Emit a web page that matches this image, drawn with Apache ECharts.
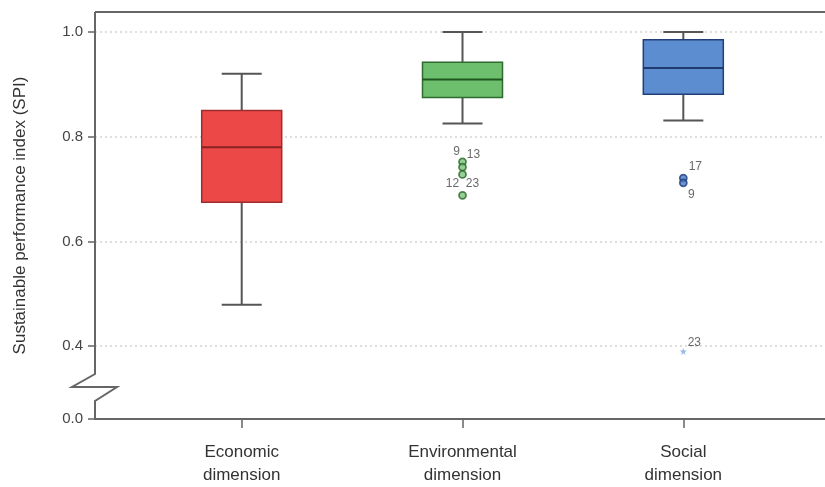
<!DOCTYPE html>
<html><head><meta charset="utf-8">
<script src="https://cdn.jsdelivr.net/npm/echarts@6/dist/echarts.min.js"></script>
<style>html,body{margin:0;padding:0;background:#fff}#c{width:825px;height:487px}</style>
</head><body><div id="c"></div>
<script>
// ---- data ----
const categories = ['Economic\ndimension', 'Environmental\ndimension', 'Social\ndimension'];
// [min, Q1, median, Q3, max]
const economic = [0.479, 0.675, 0.780, 0.850, 0.920];
const environmental = [0.825, 0.875, 0.909, 0.942, 1.000];
const social = [0.831, 0.881, 0.931, 0.985, 1.000];
const envOutliers = [0.752, 0.742, 0.728, 0.688];
const envOutlierIds = ['9', '13', '12', '23'];
const socOutliers = [0.721, 0.712];
const socOutlierIds = ['17', '9'];
const socExtremes = [0.390];
const socExtremeIds = ['23'];
const yTickValues = [0.4, 0.6, 0.8, 1.0];
const yBreakValue = 0.261;   // axis position shown as 0.0 below the break
const yBreakLabel = '0.0';
const yAxisName = 'Sustainable performance index (SPI)';

// ---- styles ----
const FONT = '"Liberation Sans", Arial, sans-serif';
const boxStyles = [
  {fill: '#EC4848', stroke: '#9E2E2E', median: '#8A2222'},
  {fill: '#6DBF6D', stroke: '#2F6B2F', median: '#1F561F'},
  {fill: '#5B8DD0', stroke: '#223F78', median: '#1E3A70'}
];
const envLabelOffsets = [[-6, -10], [11, -12], [-10, 9], [10, -12]];
const socLabelOffsets = [[12, -11], [8, 12]];
const extLabelOffsets = [[11, -9]];

const chart = echarts.init(document.getElementById('c'), null, {renderer: 'canvas'});

const boxData = [economic, environmental, social].map((d, i) => [i + 1].concat(d));

function renderBox(params, api) {
  const x = api.value(0);
  const p = [1, 2, 3, 4, 5].map(k => api.coord([x, api.value(k)]));
  const cx = p[0][0];
  const hw = 40, cw = 20;
  const s = boxStyles[params.dataIndex];
  const wl = {stroke: '#555', lineWidth: 2};
  return {type: 'group', children: [
    {type: 'line', shape: {x1: cx, y1: p[4][1], x2: cx, y2: p[3][1]}, style: wl},
    {type: 'line', shape: {x1: cx, y1: p[1][1], x2: cx, y2: p[0][1]}, style: wl},
    {type: 'line', shape: {x1: cx - cw, y1: p[4][1], x2: cx + cw, y2: p[4][1]}, style: wl},
    {type: 'line', shape: {x1: cx - cw, y1: p[0][1], x2: cx + cw, y2: p[0][1]}, style: wl},
    {type: 'rect', shape: {x: cx - hw, y: p[3][1], width: 2 * hw, height: p[1][1] - p[3][1]},
      style: {fill: s.fill, stroke: s.stroke, lineWidth: 1.5}},
    {type: 'line', shape: {x1: cx - hw, y1: p[2][1], x2: cx + hw, y2: p[2][1]},
      style: {stroke: s.median, lineWidth: 2}}
  ]};
}

function outlierData(xPos, vals, ids, offsets) {
  return vals.map((v, i) => ({
    value: [xPos, v, ids[i]],
    label: {offset: offsets[i]}
  }));
}

const labelBase = {
  show: true, position: 'inside', formatter: p => p.value[2],
  fontSize: 12, color: '#444', fontFamily: FONT
};

const GL = 95, GT = 12, GB = 67, W = 825, H = 487;
const axisBottom = H - GB;
const axisColor = '#666';

chart.setOption({
  animation: false,
  backgroundColor: '#fff',
  grid: {left: GL, right: 0, top: GT, bottom: GB},
  xAxis: {
    type: 'value', min: 0.3356, max: 3.6417,
    splitLine: {show: false},
    axisLine: {show: true, onZero: false, lineStyle: {color: axisColor, width: 2}},
    axisTick: {show: true, customValues: [1, 2, 3], length: 9, lineStyle: {color: axisColor, width: 1.5}},
    axisLabel: {customValues: [1, 2, 3], formatter: v => categories[Math.round(v) - 1],
      fontSize: 17, lineHeight: 23, margin: 22, color: '#333', fontFamily: FONT}
  },
  yAxis: {
    type: 'value', min: yBreakValue, max: 1.0381,
    name: yAxisName, nameLocation: 'middle', nameRotate: 90, nameGap: 66,
    nameTextStyle: {fontSize: 17, color: '#333', fontFamily: FONT},
    splitLine: {show: false},
    axisLine: {show: false},
    axisTick: {show: true, customValues: [yBreakValue].concat(yTickValues), length: 7,
      lineStyle: {color: axisColor, width: 1.5}},
    axisLabel: {customValues: [yBreakValue].concat(yTickValues),
      formatter: v => Math.abs(v - yBreakValue) < 1e-6 ? yBreakLabel : v.toFixed(1),
      fontSize: 15, margin: 12, color: '#444', fontFamily: FONT}
  },
  series: [
    {
      type: 'scatter', data: [], z: 1, silent: true,
      markLine: {
        silent: true, symbol: 'none', label: {show: false}, z: 1,
        lineStyle: {type: [2, 3], color: '#d4d4d4', width: 1.5},
        data: yTickValues.map(v => ({yAxis: v}))
      }
    },
    {
      type: 'custom', z: 3, renderItem: renderBox, data: boxData,
      encode: {x: 0, y: [1, 2, 3, 4, 5]}
    },
    {
      type: 'scatter', z: 4, symbol: 'circle', symbolSize: 7,
      itemStyle: {color: '#7CC47C', borderColor: '#2A6A2A', borderWidth: 1.8},
      label: labelBase,
      data: outlierData(2, envOutliers, envOutlierIds, envLabelOffsets)
    },
    {
      type: 'scatter', z: 4, symbol: 'circle', symbolSize: 7,
      itemStyle: {color: '#4A7CC0', borderColor: '#1F3F7F', borderWidth: 1.8},
      label: labelBase,
      data: outlierData(3, socOutliers, socOutlierIds, socLabelOffsets)
    },
    {
      type: 'scatter', z: 4, symbol: 'path://M0,-10 L2.4,-3.1 9.5,-3.1 3.8,1.2 5.9,8.1 0,3.9 -5.9,8.1 -3.8,1.2 -9.5,-3.1 -2.4,-3.1 Z',
      symbolSize: 7,
      itemStyle: {color: '#7AA6E2'},
      label: labelBase,
      data: outlierData(3, socExtremes, socExtremeIds, extLabelOffsets)
    }
  ],
  graphic: [
    {type: 'line', z: 10, shape: {x1: GL, y1: GT, x2: W, y2: GT}, style: {stroke: axisColor, lineWidth: 2}},
    {type: 'polyline', z: 10,
      shape: {points: [[GL, GT], [GL, axisBottom - 46], [GL - 23, axisBottom - 33], [GL + 22, axisBottom - 33], [GL, axisBottom - 19], [GL, axisBottom]]},
      style: {stroke: axisColor, lineWidth: 2, fill: null}}
  ]
});
</script>
</body></html>
